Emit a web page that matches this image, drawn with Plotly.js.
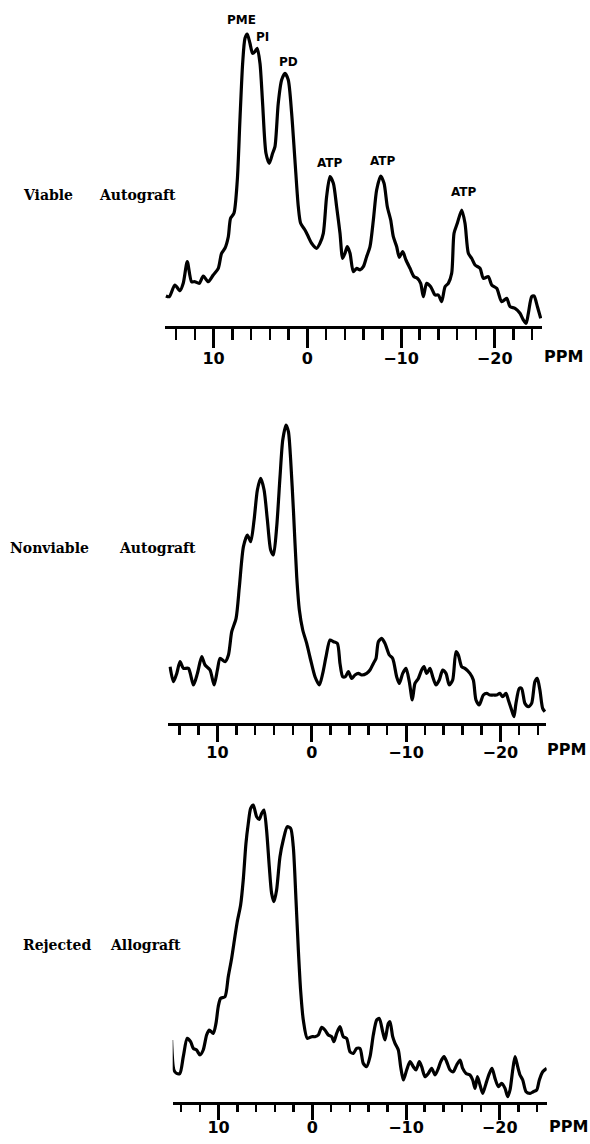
<!DOCTYPE html>
<html>
<head>
<meta charset="utf-8">
<script src="https://cdn.plot.ly/plotly-3.0.1.min.js"></script>
<style>html,body{margin:0;padding:0;background:#fff;}#chart{width:590px;height:1144px;}</style>
</head>
<body>
<div id="chart"></div>
<script>
// ---- Data (ppm, signal height) ----
const ppmViable = [15.09,14.73,14.13,13.59,13.24,12.81,12.35,11.99,11.53,11.10,10.57,10.04,9.50,9.15,8.79,8.43,8.19,7.83,7.47,7.19,6.90,6.65,6.41,6.12,5.84,5.59,5.34,5.05,4.77,4.41,4.06,3.70,3.45,3.10,2.74,2.38,2.03,1.67,1.32,0.96,0.71,0.25,-0.11,-0.46,-1.00,-1.35,-1.71,-2.06,-2.42,-2.78,-3.13,-3.49,-3.77,-4.02,-4.27,-4.56,-4.91,-5.27,-5.62,-5.98,-6.33,-6.69,-7.05,-7.40,-7.83,-8.19,-8.54,-8.90,-9.18,-9.54,-9.82,-10.18,-10.53,-10.96,-11.39,-11.74,-12.10,-12.38,-12.74,-13.17,-13.63,-13.99,-14.34,-14.70,-15.05,-15.41,-15.66,-16.01,-16.48,-16.83,-17.19,-17.54,-17.90,-18.43,-18.79,-19.32,-19.68,-20.21,-20.75,-21.28,-21.64,-22.17,-22.70,-23.06,-23.35,-23.59,-23.95,-24.20,-24.56,-24.91];
const intViable = [30,29.3,41,35.3,42.7,64.3,44.3,44.3,42.7,50,44.3,51,57.7,72.7,77.7,89.3,107.7,112.7,146,206,262.7,287.7,292,282.7,272.7,274.3,277.7,262.7,222.7,172.7,162.7,172.7,179.3,222.7,246,252.7,246,212.7,166,119.3,102.7,96,89.3,82.7,77.7,82.7,92.7,129.3,149.3,142.7,119.3,92.7,67.7,72.7,79.3,72.7,54.3,57.7,56,59.3,69.3,79.3,106,136,150,142.7,119.3,106,89.3,79.3,68.7,74.3,66,57.7,49.3,47.7,42.7,29.3,42.7,39.3,31,31,24.3,39.3,42.7,52.7,92.7,102.7,116,102.7,72.7,67.7,61,57.7,47.7,49.3,41,37.7,24.3,27.7,19.3,17.7,12.7,6,2.7,12.7,29.3,30,19.3,7.7];

const ppmNonviable = [15.02,14.66,14.31,13.96,13.60,13.07,12.54,12.12,11.66,11.31,10.78,10.35,10.00,9.72,9.19,8.83,8.48,8.02,7.67,7.24,6.82,6.47,6.11,5.76,5.41,5.05,4.70,4.35,4.06,3.71,3.36,3.07,2.72,2.47,2.23,1.94,1.59,1.31,0.95,0.53,0.11,-0.35,-0.81,-1.17,-1.52,-1.94,-2.30,-2.72,-3.00,-3.29,-3.57,-3.89,-4.24,-4.59,-4.95,-5.30,-5.83,-6.18,-6.54,-6.82,-7.07,-7.42,-7.77,-8.23,-8.59,-9.01,-9.29,-9.65,-10.00,-10.35,-10.67,-10.95,-11.31,-11.66,-11.91,-12.19,-12.54,-12.83,-13.18,-13.53,-13.89,-14.24,-14.59,-14.95,-15.30,-15.55,-15.90,-16.25,-16.78,-17.14,-17.42,-17.77,-18.20,-18.55,-18.90,-19.26,-19.61,-19.96,-20.25,-20.60,-20.85,-21.20,-21.45,-21.66,-22.01,-22.26,-22.61,-22.97,-23.32,-23.67,-23.92,-24.20,-24.49,-24.73];
const intNonviable = [56,41,49.3,61,54.3,54.3,37.7,49.3,66,57.7,52.7,37.7,52.7,64.3,61,67.7,91,104.3,136,176,187.7,181,202.7,232.7,244.3,232.7,202.7,172.7,167.7,196,246,282.7,297.7,291,262.7,212.7,146,112.7,92.7,79.3,62.7,46,37.7,49.3,66,82.7,81,79.3,59.3,46,46,51,44.3,47.7,49.3,47.7,49.3,52.7,59.3,64.3,81,84.3,79.3,67.7,64.3,46,39.3,49.3,54.3,41,22.7,39.3,44.3,52.7,56,49.3,54.3,46,37.7,42.7,52.7,49.3,37.7,42.7,71,67.7,56,54.3,49.3,42.7,22.7,17.7,27.7,29.3,27.7,27.7,27.7,29.3,26,29.3,22.7,12.7,6,19.3,34.3,34.3,19.3,16,19.3,41,44.3,32.7,14.3,11];

const ppmRejected = [15.02,14.77,14.48,14.13,13.77,13.35,12.99,12.70,12.35,11.99,11.64,11.28,11.00,10.57,10.28,10.04,9.79,9.32,8.97,8.61,8.26,8.01,7.65,7.37,7.08,6.83,6.58,6.30,5.94,5.66,5.41,5.16,4.88,4.59,4.34,4.09,3.81,3.45,3.10,2.67,2.31,2.03,1.74,1.49,1.25,0.96,0.53,0.07,-0.28,-0.64,-1.00,-1.35,-1.71,-2.06,-2.31,-2.60,-2.95,-3.31,-3.67,-4.02,-4.38,-4.73,-5.09,-5.44,-5.80,-6.16,-6.51,-6.87,-7.15,-7.51,-7.76,-8.11,-8.29,-8.58,-8.83,-9.18,-9.43,-9.72,-10.07,-10.43,-10.78,-11.07,-11.42,-11.67,-12.03,-12.38,-12.74,-13.10,-13.45,-13.70,-14.06,-14.34,-14.70,-15.05,-15.41,-15.77,-16.05,-16.41,-16.83,-17.12,-17.37,-17.62,-17.90,-18.19,-18.54,-18.90,-19.18,-19.50,-19.86,-20.21,-20.57,-20.85,-21.10,-21.39,-21.64,-21.92,-22.17,-22.46,-22.81,-23.24,-23.59,-23.95,-24.23,-24.59,-25.02];
const intRejected = [61.7,31.7,28.3,28.3,45,63.3,60,53.3,51.7,46.7,51.7,66.7,71.7,68.3,78.3,95,103.3,105,125,143.3,165,180,196.7,221.7,258.3,278.3,293.3,296.7,285,282.3,288.3,291.7,271.7,235,208.3,200,211.7,245,261.7,275,273.3,255,201.7,151.7,111.7,81.7,63.3,65,65,66.7,74.3,71.7,66.7,65,60,68.3,75,65,63.3,50,48.3,53.3,53.3,38.3,35,45,66.7,81.7,83.3,70,61.7,78.3,80,65,58.3,51.7,35,21.7,31.7,40,35,31.7,40,35,25,28.3,33.3,26.7,33.3,40,45,40,31.7,30,36.7,41.7,33.3,28.3,26.7,21.7,13.3,25,16.7,8.3,18.3,28.3,33.3,23.3,15,18.3,13.3,5,11.7,31.7,45,35,26.7,21.7,10,8.3,10,11.7,21.7,30,33.3];

const panelLabels = [["Viable", "Autograft"], ["Nonviable", "Autograft"], ["Rejected", "Allograft"]];
const peakNames = ["PME", "PI", "PD", "ATP", "ATP", "ATP"];
const peakPpm = [6.97, 4.83, 2.06, -2.42, -8.08, -16.72];
const peakHeight = [306, 289, 264, 163, 165, 134];
const tickValues = [10, 0, -10, -20];
const tickLabels = ["10", "0", "\u221210", "\u221220"];
const axisUnit = "PPM";

// ---- Layout geometry (pixels) ----
const W = 590, H = 1144;
const px = v => v / W;
const py = v => 1 - v / H;
const panels = [
  {x0: 165, x1: 542, zero: 307.3, scale: 9.37, base: 326.0, labelY: 195, lx: [20.5, 96.5], unitX: 563, unitY: 356, major: 19, minor: 11, standoff: -3},
  {x0: 168.3, x1: 546, zero: 311.7, scale: 9.43, base: 722.7, labelY: 548, lx: [8, 117], unitX: 566, unitY: 749, major: 16, minor: 9, standoff: -3},
  {x0: 172.7, x1: 546.7, zero: 312.3, scale: 9.37, base: 1101.7, labelY: 945, lx: [20.5, 108], unitX: 568, unitY: 1126, major: 15, minor: 7, standoff: -6}
];
const PH = 310;
const series = [[ppmViable, intViable], [ppmNonviable, intNonviable], [ppmRejected, intRejected]];

const data = series.map((s, i) => ({
  x: s[0], y: s[1], type: 'scatter', mode: 'lines',
  xaxis: i === 0 ? 'x' : 'x' + (i + 1), yaxis: i === 0 ? 'y' : 'y' + (i + 1),
  line: {color: '#000', width: 3.2, shape: 'spline', smoothing: 0.7},
  hoverinfo: 'skip', showlegend: false
}));

const tickFont = {family: 'DejaVu Sans', size: 16, color: '#000', weight: 'bold'};
const layout = {
  width: W, height: H, margin: {l: 0, r: 0, t: 0, b: 0},
  paper_bgcolor: '#fff', plot_bgcolor: 'rgba(0,0,0,0)', showlegend: false,
  annotations: [], font: {family: 'DejaVu Sans', color: '#000'}
};
panels.forEach((p, i) => {
  const sfx = i === 0 ? '' : String(i + 1);
  layout['xaxis' + sfx] = {
    domain: [px(p.x0), px(p.x1)],
    range: [(p.zero - p.x0) / p.scale, (p.zero - p.x1) / p.scale],
    anchor: 'y' + sfx, showgrid: false, zeroline: false,
    showline: true, linecolor: '#000', linewidth: 3,
    ticks: 'outside', ticklen: p.major, tickwidth: 3, tickcolor: '#000',
    tickmode: 'array', tickvals: tickValues, ticktext: tickLabels,
    tickfont: tickFont, ticklabelstandoff: p.standoff,
    minor: {ticks: 'outside', tickmode: 'linear', tick0: 0, dtick: 2, ticklen: p.minor, tickwidth: 2.5, tickcolor: '#000', showgrid: false},
    fixedrange: true
  };
  layout['yaxis' + sfx] = {
    domain: [py(p.base), py(p.base - PH)], range: [0, PH],
    anchor: 'x' + sfx, visible: false, fixedrange: true
  };
  layout.annotations.push({
    xref: 'paper', yref: 'paper', x: px(p.unitX), y: py(p.unitY), text: axisUnit,
    showarrow: false, xanchor: 'center', yanchor: 'middle',
    font: {family: 'DejaVu Sans', size: 16, color: '#000', weight: 'bold'}
  });
  panelLabels[i].forEach((w, j) => {
    layout.annotations.push({
      xref: 'paper', yref: 'paper', x: px(p.lx[j]), y: py(p.labelY), text: w,
      showarrow: false, xanchor: 'left', yanchor: 'middle',
      font: {family: 'DejaVu Serif', size: 14, color: '#000', weight: 'bold'}
    });
  });
});
peakNames.forEach((n, k) => {
  layout.annotations.push({
    xref: 'x', yref: 'y', x: peakPpm[k], y: peakHeight[k], text: n,
    showarrow: false, xanchor: 'center', yanchor: 'middle',
    font: {family: 'DejaVu Sans', size: 12, color: '#000', weight: 'bold'}
  });
});

Plotly.newPlot('chart', data, layout, {displayModeBar: false, staticPlot: true});
</script>
</body>
</html>
